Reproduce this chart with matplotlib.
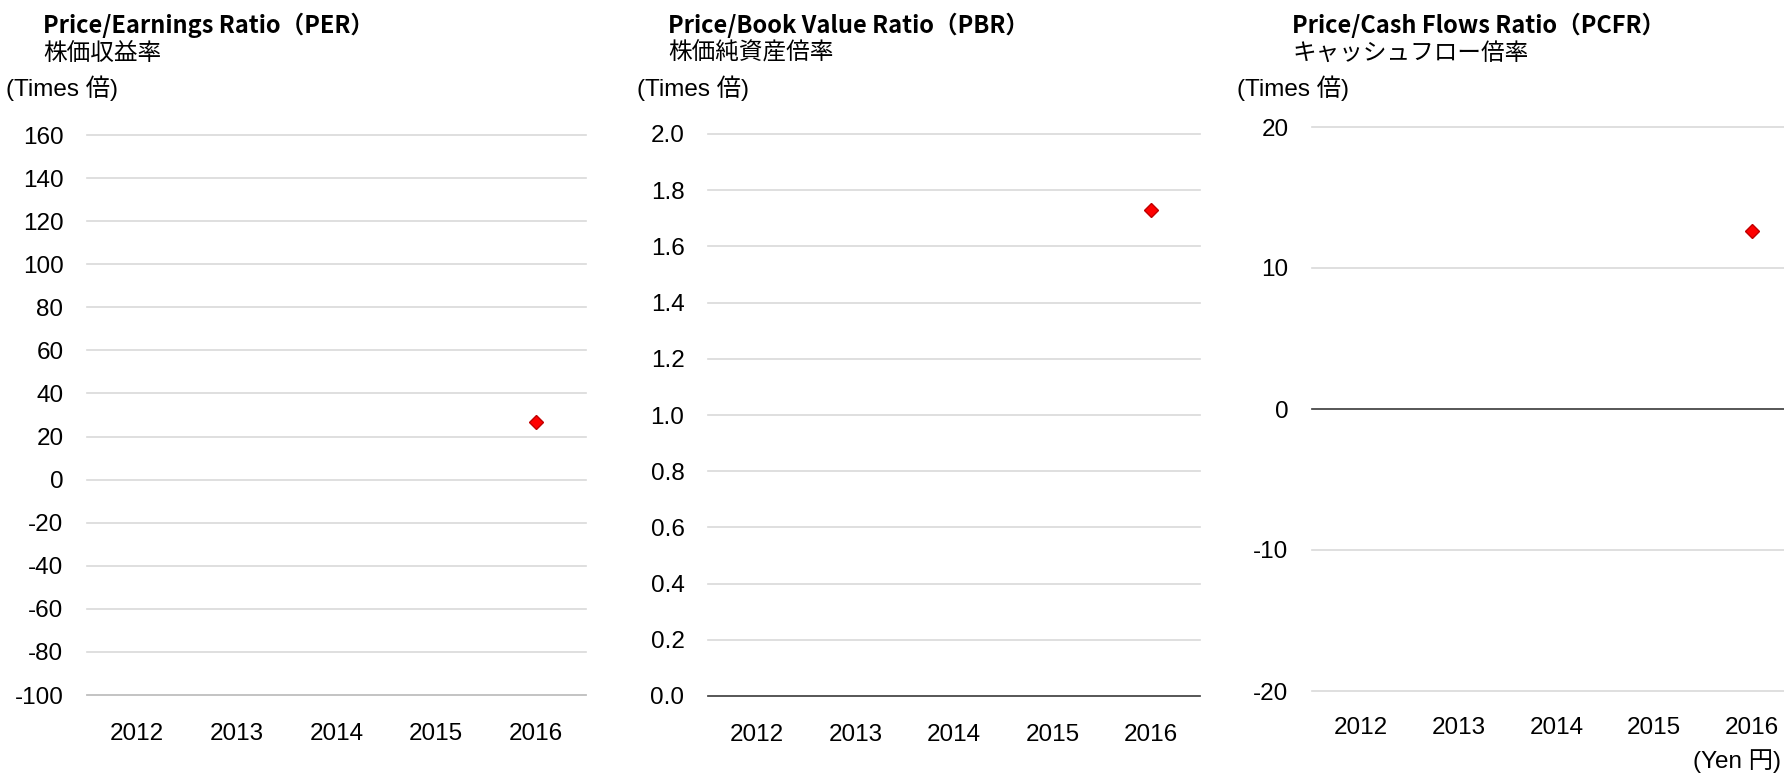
import numpy as np
import matplotlib
matplotlib.use("Agg")
import matplotlib.pyplot as plt

W, H = 1784, 774

years = ["2012", "2013", "2014", "2015", "2016"]
per_values = [np.nan, np.nan, np.nan, np.nan, 26.9]
pbr_values = [np.nan, np.nan, np.nan, np.nan, 1.73]
pcfr_values = [np.nan, np.nan, np.nan, np.nan, 12.6]

per_ticks = list(range(-100, 161, 20))
pbr_ticks = [0.0, 0.2, 0.4, 0.6, 0.8, 1.0, 1.2, 1.4, 1.6, 1.8, 2.0]
pcfr_ticks = [-20, -10, 0, 10, 20]

titles = ["Price/Earnings Ratio（PER）", "Price/Book Value Ratio（PBR）", "Price/Cash Flows Ratio（PCFR）"]
subtitles = ["株価収益率", "株価純資産倍率", "キャッシュフロー倍率"]
unit_label = "(Times 倍)"
yen_label = "(Yen 円)"

LATIN = ["Liberation Sans", "Noto Sans CJK JP"]
CJK = ["Noto Sans CJK JP", "DejaVu Sans"]
FS = 17.5


def px_axes(fig, left, top, right, bottom):
    return fig.add_axes([left / W, 1 - bottom / H, (right - left) / W, (bottom - top) / H])


def fig_text(fig, x, y, s, **kw):
    fig.text(x / W, 1 - y / H, s, va="center", **kw)


def draw_panel(ax, values, ticks, fmt, zero_dark, xpad):
    x = np.arange(len(years))
    ax.set_xlim(-0.5, len(years) - 0.5)
    ax.set_ylim(ticks[0], ticks[-1])
    ax.set_yticks(ticks)
    ax.set_yticklabels([fmt(t) for t in ticks], family=LATIN, fontsize=FS)
    ax.set_xticks(x)
    ax.set_xticklabels(years, family=LATIN, fontsize=FS)
    ax.tick_params(axis="both", length=0, colors="#000000")
    ax.tick_params(axis="y", pad=17)
    ax.tick_params(axis="x", pad=xpad)
    for sp in ax.spines.values():
        sp.set_visible(False)
    for t in ticks:
        ax.axhline(t, color="#D9D9D9", lw=1.2, zorder=1, clip_on=False)
    if zero_dark:
        ax.axhline(0, color="#404040", lw=1.2, zorder=2, clip_on=False)
    else:
        ax.axhline(ticks[0], color="#BFBFBF", lw=1.2, zorder=2, clip_on=False)
    ax.plot(x, values, linestyle="none", marker="D", markersize=7.5,
            markerfacecolor="#FF0000", markeredgecolor="#C00000",
            markeredgewidth=1, zorder=3, clip_on=False)


fig = plt.figure(figsize=(W / 100, H / 100), dpi=100)

ax1 = px_axes(fig, 87, 135, 586, 695)
draw_panel(ax1, per_values, per_ticks, lambda t: f"{t}", False, 20)

ax2 = px_axes(fig, 708, 134, 1200, 696)
draw_panel(ax2, pbr_values, pbr_ticks, lambda t: f"{t:.1f}", True, 20)

ax3 = px_axes(fig, 1312, 127, 1801, 691)
draw_panel(ax3, pcfr_values, pcfr_ticks, lambda t: f"{t}", True, 19)

title_x = [43, 668, 1292]
unit_x = [6, 637, 1237]
for tx, ux, title, sub in zip(title_x, unit_x, titles, subtitles):
    fig_text(fig, tx, 25, title, family=CJK, fontsize=17, fontweight="bold")
    fig_text(fig, tx, 53, sub, family=CJK, fontsize=17)
    fig_text(fig, ux, 88, unit_label, family=LATIN, fontsize=FS)

fig.text(1781 / W, 1 - 761 / H, yen_label, family=LATIN, fontsize=FS,
         ha="right", va="center")

fig.savefig("out.png", dpi=100)
